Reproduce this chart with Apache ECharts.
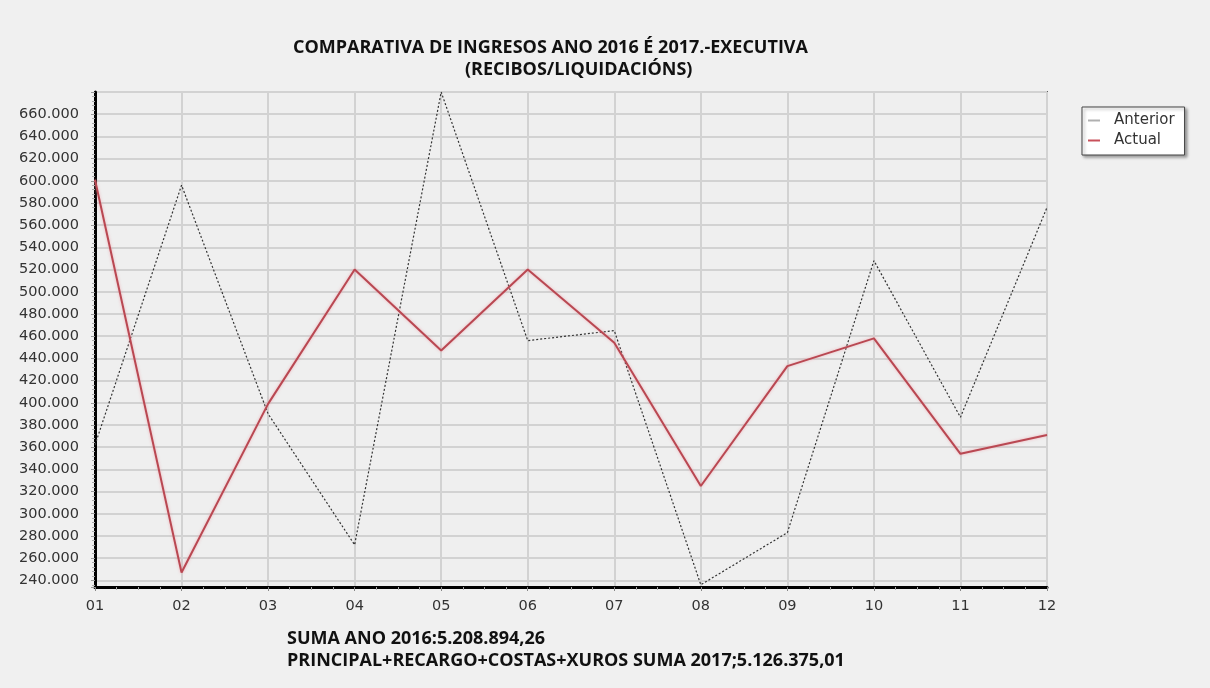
<!DOCTYPE html>
<html>
<head>
<meta charset="utf-8">
<script src="https://cdn.jsdelivr.net/npm/echarts@6/dist/echarts.min.js"></script>
<style>
html,body{margin:0;padding:0;background:#f0f0f0;}
#chart{width:1210px;height:688px;}
</style>
</head>
<body>
<div id="chart"></div>
<script>
var categories = ['01','02','03','04','05','06','07','08','09','10','11','12'];
var anterior = [362000, 596000, 390000, 272000, 680000, 456000, 465000, 236000, 283000, 528000, 387000, 576000];
var actual   = [601000, 247000, 399000, 520000, 447000, 520000, 454000, 325000, 433000, 458000, 354000, 371000];
var titleLine1 = 'COMPARATIVA DE INGRESOS ANO 2016 É 2017.-EXECUTIVA';
var titleLine2 = '(RECIBOS/LIQUIDACIÓNS)';
var footLine1 = 'SUMA ANO 2016:5.208.894,26';
var footLine2 = 'PRINCIPAL+RECARGO+COSTAS+XUROS SUMA 2017;5.126.375,01';

function fmt(v){
  var s = Math.round(v/1000).toString();
  return s + '.000';
}

var chart = echarts.init(document.getElementById('chart'), null, {renderer:'canvas'});
var titleFont = 'Open Sans';
chart.setOption({
  backgroundColor: '#f0f0f0',
  animation: false,
  title: [
    {text: titleLine1, left: 288, top: 34, textStyle:{fontFamily: titleFont, fontWeight:'bold', fontSize: 18, color:'#111'}},
    {text: titleLine2, left: 460, top: 56, textStyle:{fontFamily: titleFont, fontWeight:'bold', fontSize: 18, color:'#111'}}
  ],
  legend: {
    orient: 'vertical',
    left: 1082, top: 107,
    backgroundColor: '#ffffff',
    borderColor: '#444',
    borderWidth: 1,
    borderRadius: 0,
    padding: [6, 10, 7, 6],
    itemGap: 5,
    itemWidth: 12,
    itemHeight: 2,
    icon: 'rect',
    shadowColor: 'rgba(0,0,0,0.35)',
    shadowBlur: 3,
    shadowOffsetX: 2,
    shadowOffsetY: 2,
    textStyle: {fontFamily: 'DejaVu Sans', fontSize: 15, color: '#333', padding: [0, 0, 0, 9]},
    data: ['Anterior', 'Actual']
  },
  grid: {
    left: 95, right: 163, top: 92, bottom: 101,
    show: true,
    backgroundColor: '#efefef',
    borderColor: '#606060',
    borderWidth: 2
  },
  xAxis: [{
    type: 'category',
    data: categories,
    boundaryGap: false,
    axisLine: {show: true, lineStyle: {color: '#000', width: 3}},
    axisTick: {show: true, length: 4, lineStyle: {color: '#888'}},
    axisLabel: {fontFamily: 'DejaVu Sans', fontSize: 14.5, color: '#333', margin: 12},
    splitLine: {show: true, lineStyle: {color: '#d2d2d2', width: 2}}
  }, {
    type: 'value',
    min: 0, max: 11, interval: 1,
    position: 'bottom',
    axisLine: {show: false},
    axisLabel: {show: false},
    axisTick: {show: false},
    minorTick: {show: true, splitNumber: 4, length: 3, lineStyle: {color: '#aaa'}},
    splitLine: {show: false}
  }],
  yAxis: {
    type: 'value',
    min: 234000, max: 680000,
    minInterval: 20000, maxInterval: 20000,
    splitNumber: 22,
    axisLine: {show: true, lineStyle: {color: '#000', width: 3}},
    axisTick: {show: true, length: 4, lineStyle: {color: '#999'}},
    minorTick: {show: true, splitNumber: 5, length: 3, lineStyle: {color: '#aaa'}},
    axisLabel: {showMinLabel: false, showMaxLabel: false, formatter: fmt, fontFamily: 'DejaVu Sans', fontSize: 14.5, color: '#333', margin: 16},
    splitLine: {show: true, lineStyle: {color: '#d2d2d2', width: 2}}
  },
  series: [{
    name: 'Anterior',
    type: 'line',
    data: anterior,
    symbol: 'none',
    itemStyle: {color: '#b0b0b0'},
    lineStyle: {color: '#333', width: 1.2, type: [2, 2]},
    z: 3
  }, {
    name: 'Actual',
    type: 'line',
    data: actual,
    symbol: 'none',
    itemStyle: {color: '#c8505a'},
    lineStyle: {color: '#b94852', width: 2, shadowColor: 'rgba(240,150,160,0.7)', shadowBlur: 3},
    z: 4
  }],
  graphic: [
    {type: 'text', left: 287, top: 630, style: {text: footLine1, font: 'bold 18px "Open Sans"', fill: '#111'}},
    {type: 'text', left: 287, top: 652, style: {text: footLine2, font: 'bold 18px "Open Sans"', fill: '#111'}}
  ]
});
</script>
</body>
</html>
